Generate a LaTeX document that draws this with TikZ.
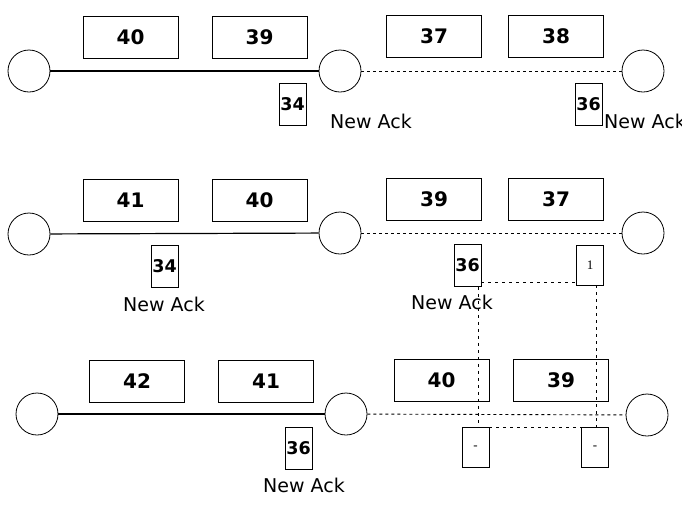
\documentclass[tikz,border=0pt]{standalone}
\usepackage{fontspec}
\setmainfont{DejaVu Sans}
\newfontfamily\tinyserif{Liberation Serif}
\begin{document}
\begin{tikzpicture}[x=1pt,y=-1pt,
  host/.style={circle,draw,line width=0.8pt,minimum size=42pt,inner sep=0pt},
  pkt/.style={draw,line width=0.9pt,minimum width=95pt,minimum height=42pt,inner sep=0pt,font=\bfseries\fontsize{20}{24}\selectfont},
  ack/.style={draw,line width=0.9pt,minimum width=27pt,minimum height=42pt,inner sep=0pt,font=\bfseries\fontsize{17.5}{20}\selectfont},
  blank/.style={draw,line width=0.9pt,minimum width=27pt,minimum height=40pt,inner sep=0pt,font=\tinyserif\fontsize{13}{15}\selectfont},
  lbl/.style={anchor=base west,inner sep=0pt,font=\fontsize{19}{22}\selectfont},
  link/.style={line width=1.2pt},
  lossy/.style={line width=0.9pt,dash pattern=on 3pt off 3pt},
  trace/.style={line width=0.8pt,dash pattern=on 3pt off 4pt}]
\useasboundingbox (0,0) rectangle (682,504);
\clip (0,0) rectangle (682,504);
% Row 1
\node[host] (h11) at (29,71) {};
\node[host] (h12) at (340,71) {};
\node[host] (h13) at (643,71) {};
\draw[link] (h11) -- (h12);
\draw[lossy] (h12) -- (h13);
\node[pkt] (p11) at (130.5,37) {40};
\node[pkt] (p12) at (259.5,37) {39};
\node[pkt] (p13) at (434,36.5) {37};
\node[pkt] (p14) at (556,36.5) {38};
\node[ack] (a11) at (292.5,104.5) {34};
\node[ack] (a12) at (588.5,104.5) {36};
\node[lbl] (l11) at (330,128) {New Ack};
\node[lbl] (l12) at (604,128) {New Ack};
% Row 2
\node[host] (h21) at (29,234) {};
\node[host] (h22) at (340,233) {};
\node[host] (h23) at (643,233) {};
\draw[link] (h21) -- (h22);
\draw[lossy] (h22) -- (h23);
\node[pkt] (p21) at (130.5,200.5) {41};
\node[pkt] (p22) at (259.5,200.5) {40};
\node[pkt] (p23) at (434,199) {39};
\node[pkt] (p24) at (556,199) {37};
\node[ack] (a21) at (164.5,266.5) {34};
\node[ack] (a22) at (467.5,265.5) {36};
\node[blank] (a23) at (590,265) {1};
\node[lbl] (l21) at (123,311) {New Ack};
\node[lbl] (l22) at (411,309) {New Ack};
% Row 3
\node[host] (h31) at (37,414) {};
\node[host] (h32) at (346,414) {};
\node[host] (h33) at (647,415) {};
\draw[link] (h31) -- (h32);
\draw[lossy] (h32) -- (h33);
\node[pkt] (p31) at (137,381.5) {42};
\node[pkt] (p32) at (266,381.5) {41};
\node[pkt] (p33) at (441.5,380.5) {40};
\node[pkt] (p34) at (561,380.5) {39};
\node[ack] (a31) at (298.5,448) {36};
\node[blank] (a32) at (475.5,447.5) {-};
\node[blank] (a33) at (595,447.5) {-};
\node[lbl] (l31) at (263,492) {New Ack};
% traces
\coordinate (v1) at (478,0);
\coordinate (v2) at (596,0);
\coordinate (hy) at (0,282);
\draw[trace] (a22.east |- hy) -- (a23.west |- hy);
\draw[trace] (a22.south -| v1) -- (a32.north -| v1);
\draw[trace] (a23.south -| v2) -- (a33.north -| v2);
\draw[trace] (a32.north east) -- (a33.north west);
\end{tikzpicture}
\end{document}
